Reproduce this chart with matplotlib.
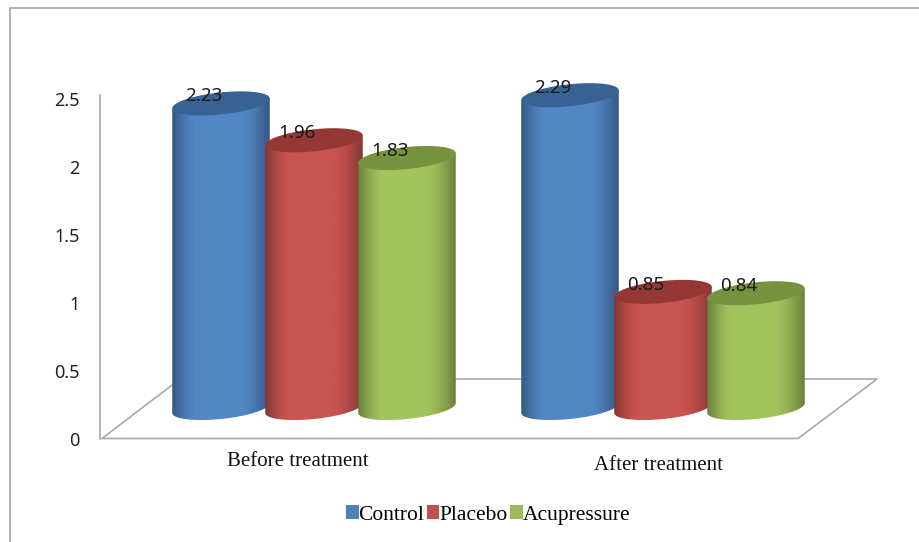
import numpy as np
import matplotlib
matplotlib.use("Agg")
import matplotlib.pyplot as plt
from matplotlib.colors import to_rgb
from matplotlib.patches import Polygon, Patch

categories = ["Before treatment", "After treatment"]
series_names = ["Control", "Placebo", "Acupressure"]
control = [2.23, 2.29]
placebo = [1.96, 0.85]
acupressure = [1.83, 0.84]
y_ticks = [0, 0.5, 1, 1.5, 2, 2.5]
y_tick_labels = ["0", "0.5", "1", "1.5", "2", "2.5"]

face_colors = ["#4f81bd", "#c0504d", "#9bbb59"]
top_colors = ["#386294", "#953735", "#76923c"]

W, H = 919, 542
LABEL_FONT = "Noto Sans"
SERIF_FONT = "Liberation Serif"
UNIT_PX = 136.6        # pixels per unit on the value axis
GROUP_PX = 349.0       # pixels between the two groups
STEP_PX = 93.0         # pixels between cylinders in a group
CYL_W_PX = 97.5
ELL_H_PX = 11.0        # half height of the cylinder ends
TILT = -0.10           # the ends rise slightly to the right
FEET = 0.25            # room below zero for the lower end of a cylinder


def axes_at(left, top, right, bottom):
    return fig.add_axes([left / W, 1 - bottom / H, (right - left) / W, (bottom - top) / H])


def cylinder(ax, x, value, face, top, z):
    # outline in data units, ends are sheared ellipses
    a = CYL_W_PX / 2 / GROUP_PX
    t = np.linspace(0, np.pi, 80)
    dx = a * np.cos(t)
    lean = -TILT * (CYL_W_PX / 2) * np.cos(t) / UNIT_PX
    lower = lean - ELL_H_PX / UNIT_PX * np.sin(t)
    upper = lean + ELL_H_PX / UNIT_PX * np.sin(t)
    # body: lower end from left to right, then back along the chord of the top end
    body = np.vstack([
        np.column_stack([x + dx[::-1], lower[::-1]]),
        np.column_stack([x + dx, value + lean]),
    ])
    clip = Polygon(body, closed=True, transform=ax.transData, fc="none", ec="none")
    ax.add_patch(clip)

    # dark edges, flat lit middle
    base = np.array(to_rgb(face))
    s = np.linspace(0, 1, 200)
    ramp = np.minimum(np.minimum(s / 0.28, (1 - s) / 0.34), 1)
    shade = 0.68 + 0.37 * np.sin(ramp * np.pi / 2)
    strip = np.clip(base[None, None, :] * shade[None, :, None], 0, 1)
    im = ax.imshow(strip, extent=[x - a, x + a, -FEET, value + 0.2], aspect="auto",
                   interpolation="bilinear", zorder=z)
    im.set_clip_path(clip)

    cap = np.vstack([
        np.column_stack([x + dx, value + upper]),
        np.column_stack([x + dx[::-1], value + lower[::-1]]),
    ])
    ax.add_patch(Polygon(cap, closed=True, fc=top, ec="none", zorder=z))


fig = plt.figure(figsize=(W / 100, H / 100), dpi=100, facecolor="white")

# chart frame and the floor of the plot box, in pixel coordinates
bg = axes_at(0, 0, W, H)
bg.set_xlim(0, W)
bg.set_ylim(H, 0)
bg.axis("off")
bg.plot([10, 10, W], [H, 8, 8], color="#a6a6a6", lw=1.2)
floor_x = [180, 877, 798, 102, 180]
floor_y = [379, 379, 438.5, 438.5, 379]
bg.plot(floor_x, floor_y, color="#a8a8a8", lw=1.2)

# value axis at the front of the box
ax = axes_at(100, 95, 880, 438.5)
ax.patch.set_visible(False)
ax.set_ylim(0, 343.5 / 135.8)
ax.set_xlim(0, 1)
ax.set_xticks([])
ax.set_yticks(y_ticks)
ax.set_yticklabels(y_tick_labels, fontsize=13, family=LABEL_FONT, color="#222222")
ax.tick_params(axis="y", length=0, pad=14.5)
for side in ["top", "right", "bottom"]:
    ax.spines[side].set_visible(False)
ax.spines["left"].set_color("#a8a8a8")
ax.spines["left"].set_linewidth(1.2)

# cylinders stand on the floor, about 30 px behind the front edge
base_px = 408.0
top_px = base_px - 2.5 * UNIT_PX
left_px = 314.0 - 0.5 * GROUP_PX
right_px = left_px + 2.5 * GROUP_PX
bars = axes_at(left_px, top_px, right_px, base_px + FEET * UNIT_PX)
bars.patch.set_visible(False)
bars.axis("off")
values = [control, placebo, acupressure]
z = 3
for g in range(len(categories)):
    for i in range(3):
        x = g + (i - 1) * STEP_PX / GROUP_PX
        cylinder(bars, x, values[i][g], face_colors[i], top_colors[i], z)
        z += 1
        bars.annotate(f"{values[i][g]:.2f}", (x, values[i][g]), xytext=(-12.5, 5),
                      textcoords="offset points", ha="center", va="center",
                      fontsize=13.5, family=LABEL_FONT, color="#1a1a1a", zorder=50)
bars.set_xlim(-0.5, 2.0)
bars.set_ylim(-FEET, 2.5)

# group labels sit slightly off the group centres
bg.text(297.5, 461, categories[0], ha="center", va="center", fontsize=15, family=SERIF_FONT, color="#111111")
bg.text(658, 465, categories[1], ha="center", va="center", fontsize=15, family=SERIF_FONT, color="#111111")

handles = [Patch(fc=c, ec="none", label=n) for c, n in zip(face_colors, series_names)]
fig.legend(handles=handles, ncol=3, loc="center", bbox_to_anchor=(488 / W, 1 - 515 / H),
           frameon=False, handlelength=0.6, handleheight=0.6, handletextpad=0.0, columnspacing=0.1,
           prop={"family": SERIF_FONT, "size": 15.5})

fig.savefig("out.png", dpi=100)
